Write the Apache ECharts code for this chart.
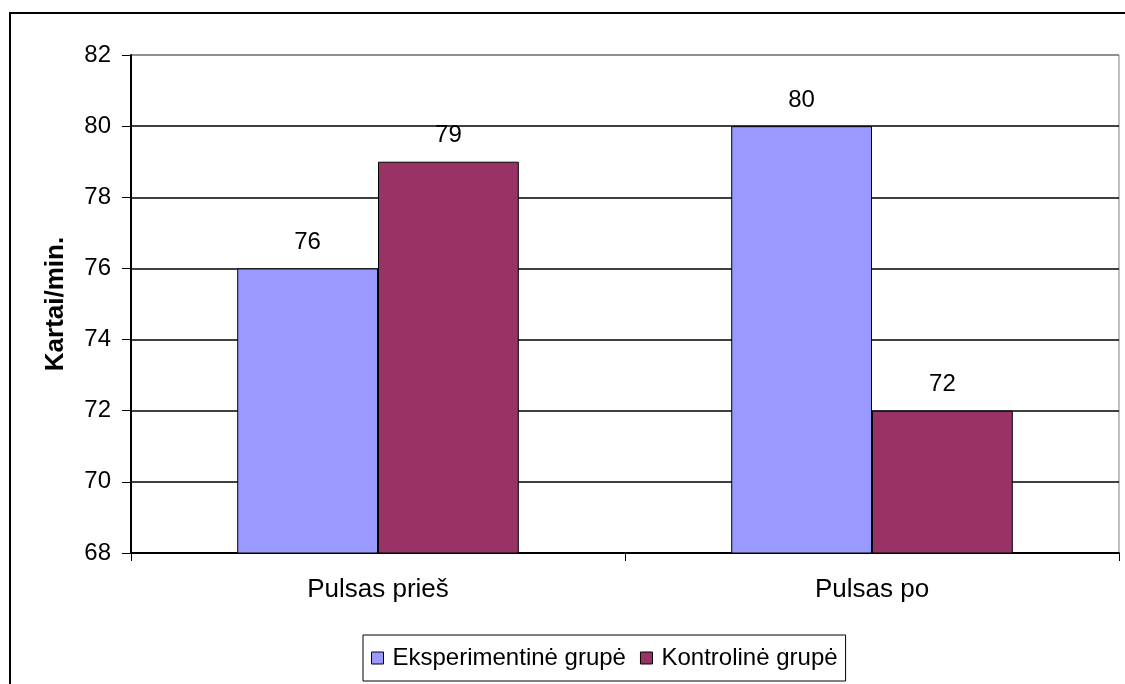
<!DOCTYPE html>
<html>
<head>
<meta charset="utf-8">
<script src="https://cdn.jsdelivr.net/npm/echarts@6/dist/echarts.min.js"></script>
<style>
  html, body { margin: 0; padding: 0; background: #fff; }
  #chart { width: 1125px; height: 684px; }
</style>
</head>
<body>
<div id="chart"></div>
<script>
// Pulse values before/after
const categories = ["Pulsas prieš", "Pulsas po"];
const seriesNames = ["Eksperimentinė grupė", "Kontrolinė grupė"];
const experimental = [76, 80];
const control = [79, 72];
const yMin = 68, yMax = 82, yStep = 2;

const colors = ["#9999FF", "#993366"];
const font = "'Liberation Sans', Arial, sans-serif";

const chart = echarts.init(document.getElementById("chart"));

function barSeries(name, data, color) {
  return {
    name,
    type: "bar",
    data,
    barGap: "0%",
    barCategoryGap: "43%",
    itemStyle: { color, borderColor: "#000", borderWidth: 1 },
    label: { show: true, position: "top", distance: 14, color: "#000", fontSize: 24, fontFamily: font },
  };
}

chart.setOption({
  animation: false,
  textStyle: { fontFamily: font },
  graphic: [{
    type: "rect",
    shape: { x: 10, y: 13, width: 1300, height: 900 },
    style: { fill: "none", stroke: "#000", lineWidth: 2 },
    silent: true,
  }],
  grid: {
    left: 131, right: 6, top: 55, bottom: 131,
    show: true, borderColor: "#808080", borderWidth: 1, backgroundColor: "transparent",
  },
  legend: {
    bottom: 3,
    left: 363,
    icon: "rect",
    itemWidth: 12,
    itemHeight: 12,
    itemGap: 14,
    padding: [11, 8, 11, 8],
    borderColor: "#000",
    borderWidth: 1,
    textStyle: { fontSize: 24, color: "#000", fontFamily: font, padding: [0, 0, 0, 4] },
    itemStyle: { borderColor: "#000", borderWidth: 1 },
    data: seriesNames,
  },
  xAxis: {
    type: "category",
    data: categories,
    axisLine: { lineStyle: { color: "#000", width: 2 } },
    axisTick: { show: true, length: 8, lineStyle: { color: "#000" } },
    axisLabel: { color: "#000", fontSize: 26, margin: 24 },
  },
  yAxis: {
    type: "value",
    min: yMin,
    max: yMax,
    interval: yStep,
    name: "Kartai/min.",
    nameLocation: "middle",
    nameGap: 62,
    nameTextStyle: { fontSize: 26, fontWeight: "bold", color: "#000" },
    axisLine: { show: true, lineStyle: { color: "#000", width: 2 } },
    axisTick: { show: true, length: 9, lineStyle: { color: "#000" } },
    axisLabel: { color: "#000", fontSize: 24, margin: 20 },
    splitLine: {
      show: true,
      lineStyle: { color: ["#000", "#000", "#000", "#000", "#000", "#000", "#000", "#808080"], width: 1.5 },
    },
  },
  series: [
    barSeries(seriesNames[0], experimental, colors[0]),
    barSeries(seriesNames[1], control, colors[1]),
  ],
});
</script>
</body>
</html>
